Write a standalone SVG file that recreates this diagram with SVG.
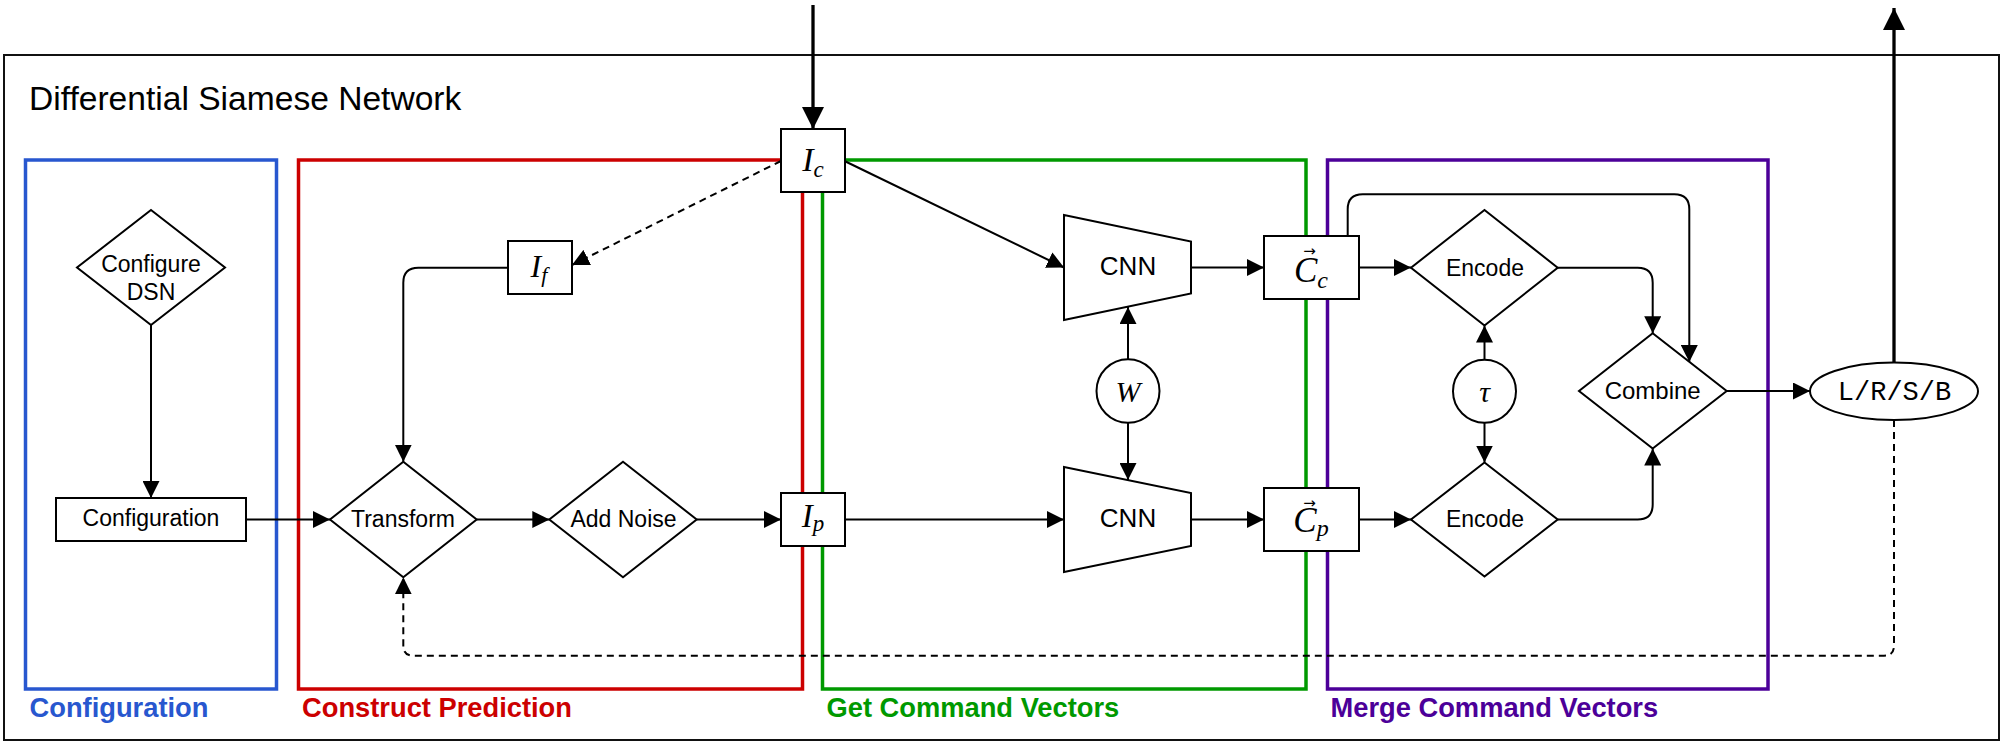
<svg xmlns="http://www.w3.org/2000/svg" width="2005" height="745" viewBox="0 0 2005 745">
<style>
.sans{font-family:"Liberation Sans",Arial,Helvetica,sans-serif;fill:#000}
.node{font-size:23px;text-anchor:middle}
.math{font-family:"Liberation Serif","Times New Roman","DejaVu Serif",serif;font-style:italic;fill:#000;text-anchor:middle}
.vec{font-family:"DejaVu Sans","Liberation Sans",sans-serif;font-style:normal;font-size:15px}
.shape{fill:#fff;stroke:#000;stroke-width:2}
.grp{fill:none;stroke-width:3.5}
.lbl{font-family:"Liberation Sans",Arial,Helvetica,sans-serif;font-weight:bold;font-size:27.3px}
.c{fill:none;stroke:#000;stroke-width:2;marker-end:url(#ah)}
.d{fill:none;stroke:#000;stroke-width:2;stroke-dasharray:7 5;marker-end:url(#ah)}
.t{fill:none;stroke:#000;stroke-width:3.3;marker-end:url(#aht)}
</style>
<defs>
<marker id="ah" markerUnits="userSpaceOnUse" markerWidth="17" markerHeight="17" viewBox="0 0 17 17" refX="17" refY="8.5" orient="auto">
<path d="M0,0 L17,8.5 L0,17 z" fill="#000"/>
</marker>
<marker id="aht" markerUnits="userSpaceOnUse" markerWidth="22" markerHeight="22" viewBox="0 0 22 22" refX="22" refY="11" orient="auto">
<path d="M0,0 L22,11 L0,22 z" fill="#000"/>
</marker>
</defs>
<rect width="2005" height="745" fill="#fff"/>

<g id="dsn-frame">
<rect x="4" y="55" width="1995" height="685" fill="none" stroke="#111" stroke-width="2"/>
<text class="sans" x="29" y="110" font-size="33.6">Differential Siamese Network</text>
</g>

<g id="group-configuration">
<rect class="grp" x="25.5" y="160" width="251" height="529" stroke="#2857CF"/>
<text class="lbl" x="29.5" y="717" fill="#2857CF">Configuration</text>
</g>
<g id="group-construct">
<rect class="grp" x="298.5" y="160" width="504" height="529" stroke="#CC0000"/>
<text class="lbl" x="302" y="717" fill="#CC0000">Construct Prediction</text>
</g>
<g id="group-get">
<rect class="grp" x="822.5" y="160" width="483.5" height="529" stroke="#009900"/>
<text class="lbl" x="826.5" y="717" fill="#009900">Get Command Vectors</text>
</g>
<g id="group-merge">
<rect class="grp" x="1327.5" y="160" width="440.5" height="529" stroke="#4C0099"/>
<text class="lbl" x="1330.5" y="717" fill="#4C0099">Merge Command Vectors</text>
</g>

<g id="connectors">
<path class="c" d="M151,325 V498"/>
<path class="c" d="M246,519.5 H330"/>
<path class="c" d="M476.7,519.5 H549.3"/>
<path class="c" d="M696.7,519.5 H781"/>
<path class="t" d="M813,5 V129"/>
<path class="d" d="M781,161 L572,265"/>
<path class="c" d="M508,267.7 H418.3 Q403.3,267.7 403.3,282.7 V461.7"/>
<path class="c" d="M844.5,161 L1064,267.5"/>
<path class="c" d="M845,519.5 H1064"/>
<path class="c" d="M1191,267.5 H1264"/>
<path class="c" d="M1191,519.5 H1264"/>
<path class="c" d="M1128,359.5 V307"/>
<path class="c" d="M1128,422.5 V480"/>
<path class="c" d="M1359,267.5 H1411"/>
<path class="c" d="M1359,519.5 H1411"/>
<path class="c" d="M1484.5,359.8 V325.5"/>
<path class="c" d="M1484.5,422.8 V462.5"/>
<path class="c" d="M1557.7,267.7 H1637.7 Q1652.7,267.7 1652.7,282.7 V333.3"/>
<path class="c" d="M1557.7,519.5 H1637.7 Q1652.7,519.5 1652.7,504.5 V448.5"/>
<path class="c" d="M1347.7,236 V209.3 Q1347.7,194.3 1362.7,194.3 H1674.3 Q1689.3,194.3 1689.3,209.3 V362"/>
<path class="c" d="M1726.7,391 H1810"/>
<path class="t" d="M1894,362.7 V8"/>
<path class="d" d="M1894,420 V645.7 Q1894,655.7 1884,655.7 H413.3 Q403.3,655.7 403.3,645.7 V577.3"/>
</g>

<g id="node-configure-dsn">
<polygon class="shape" points="151,210 225,267.5 151,325 77,267.5"/>
<text class="sans node" x="151" y="272">Configure</text>
<text class="sans node" x="151" y="300">DSN</text>
</g>
<g id="node-configuration">
<rect class="shape" x="56" y="498" width="190" height="43"/>
<text class="sans node" x="151" y="526">Configuration</text>
</g>
<g id="node-transform">
<polygon class="shape" points="403.3,461.7 476.7,519.5 403.3,577.3 330,519.5"/>
<text class="sans node" x="403" y="527">Transform</text>
</g>
<g id="node-add-noise">
<polygon class="shape" points="623,461.7 696.7,519.5 623,577.3 549.3,519.5"/>
<text class="sans node" x="623.5" y="526.5">Add Noise</text>
</g>
<g id="node-if">
<rect class="shape" x="508" y="241" width="64" height="53"/>
<text class="math" x="539" y="277" font-size="32">I<tspan font-size="22" dy="5">f</tspan></text>
</g>
<g id="node-ic">
<rect class="shape" x="781" y="129" width="64" height="63"/>
<text class="math" x="813" y="171" font-size="34">I<tspan font-size="23" dy="5.5">c</tspan></text>
</g>
<g id="node-ip">
<rect class="shape" x="781" y="493" width="64" height="53"/>
<text class="math" x="813" y="527" font-size="33">I<tspan font-size="23" dy="4">p</tspan></text>
</g>
<g id="node-cnn-c">
<polygon class="shape" points="1064,215 1191,241.5 1191,293.5 1064,320"/>
<text class="sans" x="1128" y="275" font-size="26" text-anchor="middle">CNN</text>
</g>
<g id="node-cnn-p">
<polygon class="shape" points="1064,467 1191,493 1191,546 1064,572"/>
<text class="sans" x="1128" y="526.5" font-size="26" text-anchor="middle">CNN</text>
</g>
<g id="node-w">
<ellipse class="shape" cx="1128" cy="391" rx="31.5" ry="31.8"/>
<text class="math" x="1128" y="402" font-size="30">W</text>
</g>
<g id="node-cc">
<rect class="shape" x="1264" y="236" width="95" height="63"/>
<text class="math" font-size="35"><tspan class="vec" x="1309.5" y="255.5">→</tspan><tspan x="1311" y="282">C</tspan><tspan font-size="24" dy="5.5">c</tspan></text>
</g>
<g id="node-cp">
<rect class="shape" x="1264" y="488" width="95" height="63"/>
<text class="math" font-size="35"><tspan class="vec" x="1309.5" y="507.5">→</tspan><tspan x="1311" y="532">C</tspan><tspan font-size="24" dy="3.5">p</tspan></text>
</g>
<g id="node-encode-c">
<polygon class="shape" points="1484.5,210 1557.7,267.7 1484.5,325.5 1411,267.7"/>
<text class="sans node" x="1485" y="275.5">Encode</text>
</g>
<g id="node-encode-p">
<polygon class="shape" points="1484.5,462.5 1557.7,519.5 1484.5,576.5 1411,519.5"/>
<text class="sans node" x="1485" y="527">Encode</text>
</g>
<g id="node-tau">
<ellipse class="shape" cx="1484.5" cy="391.3" rx="31.5" ry="31.5"/>
<text class="math" x="1484.5" y="401.5" font-size="30">τ</text>
</g>
<g id="node-combine">
<polygon class="shape" points="1652.7,333.3 1726.7,391 1652.7,448.5 1579,391"/>
<text class="sans" x="1652.7" y="398.5" font-size="24" text-anchor="middle">Combine</text>
</g>
<g id="node-output">
<ellipse class="shape" cx="1894" cy="391.3" rx="84" ry="28.7"/>
<text x="1894.5" y="400" font-family="'Liberation Mono','Courier New',monospace" font-size="27" text-anchor="middle">L/R/S/B</text>
</g>
</svg>
